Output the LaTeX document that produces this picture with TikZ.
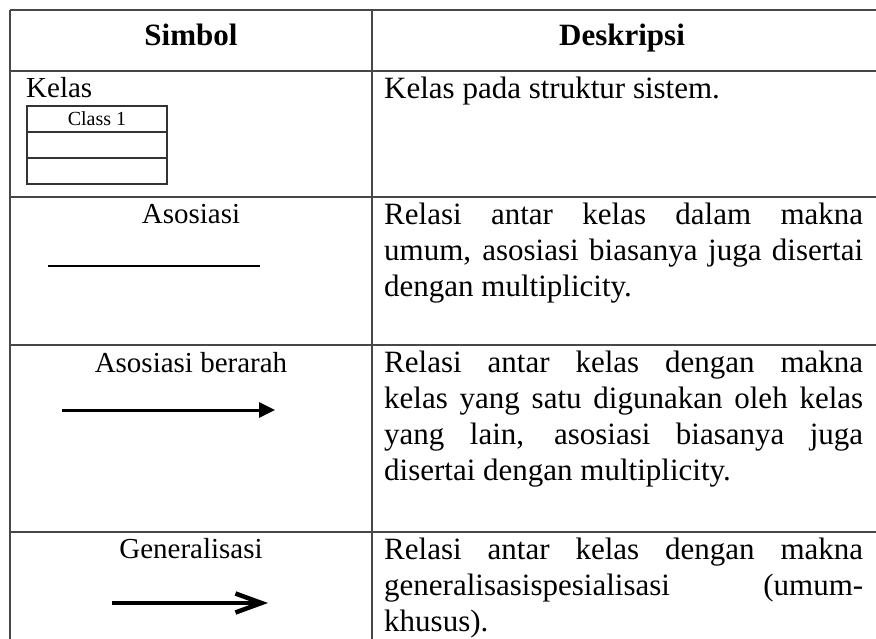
\documentclass[tikz,border=0pt]{standalone}
\usepackage{fontspec}
\setmainfont{Liberation Serif}
\usetikzlibrary{arrows.meta}
\begin{document}
\begin{tikzpicture}[x=1pt,y=-1pt,
  rule/.style={draw=black!72, line width=1.5pt},
  headtext/.style={font=\fontsize{31}{36}\selectfont\bfseries, anchor=base, inner sep=0pt},
  symlabel/.style={font=\fontsize{29}{34}\selectfont, anchor=base, inner sep=0pt},
  desc/.style={font=\fontsize{31}{36}\selectfont, anchor=north west, inner sep=0pt,
               text width=479pt, align=justify},
  classpart/.style={draw=black!80, line width=1.4pt, minimum width=140pt,
                    minimum height=26pt, inner sep=0pt, outer sep=0pt,
                    font=\fontsize{20}{24}\selectfont},
  plainline/.style={draw=black, line width=1.4pt},
  directed/.style={draw=black, line width=3pt, -{Triangle[length=16pt,width=15pt]}},
  general/.style={draw=black, line width=4.5pt, -{Straight Barb[length=26pt,width=19pt]}}
]
\useasboundingbox (0,0) rectangle (876,639);

% table grid
\draw[rule] (10,10) -- (876,10);
\draw[rule] (10,71) -- (876,71);
\draw[rule] (10,197) -- (876,197);
\draw[rule] (10,345) -- (876,345);
\draw[rule] (10,532) -- (876,532);
\draw[rule] (10,10) -- (10,639);
\draw[rule] (372,10) -- (372,639);

% header
\node[headtext] (hsym) at (191,46) {Simbol};
\node[headtext] (hdesc) at (622,46) {Deskripsi};

% row 1: class
\node[symlabel, anchor=base west] (lkelas) at (26,98) {Kelas};
\node[classpart] (c1) at (97,119) {Class 1};
\node[classpart, anchor=north] (c2) at (c1.south) {};
\node[classpart, anchor=north] (c3) at (c2.south) {};
\node[desc] (dk) at (384,77) {Kelas pada struktur sistem.};

% row 2: association
\node[symlabel] (lasos) at (191,224) {Asosiasi};
\coordinate (as1) at (48,266);
\coordinate (as2) at (260,266);
\draw[plainline] (as1) -- (as2);
\node[desc] (da) at (384,203) {Relasi antar kelas dalam makna\linebreak
  umum, asosiasi biasanya juga disertai\linebreak
  dengan multiplicity.};

% row 3: directed association
\node[symlabel] (ldir) at (191,372) {Asosiasi berarah};
\coordinate (dr1) at (62,410);
\coordinate (dr2) at (275,410);
\draw[directed] (dr1) -- (dr2);
\node[desc] (dd) at (384,351) {Relasi antar kelas dengan makna\linebreak
  kelas yang satu digunakan oleh kelas\linebreak
  yang lain, asosiasi biasanya juga\linebreak
  disertai dengan multiplicity.};

% row 4: generalisation
\node[symlabel] (lgen) at (191,558) {Generalisasi};
\coordinate (gn1) at (112,603);
\coordinate (gn2) at (268,603);
\draw[general] (gn1) -- (gn2);
\node[desc] (dg) at (384,538) {Relasi antar kelas dengan makna\linebreak
  generalisasispesialisasi (umum-\linebreak
  khusus).};
\end{tikzpicture}
\end{document}
